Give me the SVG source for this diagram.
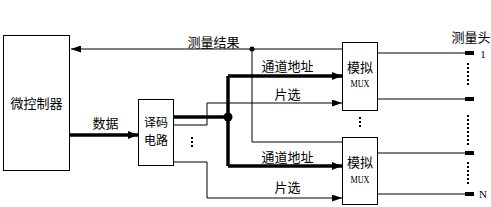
<svg xmlns="http://www.w3.org/2000/svg" width="491" height="207" viewBox="0 0 491 207">
<defs>
<style>
.box{fill:#fff;stroke:#000;stroke-width:1}
.thin{fill:none;stroke:#000;stroke-width:1}
.thick{fill:none;stroke:#000;stroke-width:3.5}
.t{font-family:"Noto Sans CJK SC","Noto Sans",sans-serif;font-size:13px;fill:#000;text-anchor:middle}
.m{font-family:"Liberation Serif",serif;font-size:11px;fill:#000;text-anchor:middle}
.dots{fill:none;stroke:#000;stroke-width:2;stroke-dasharray:2 2}
.term{fill:#000}
</style>
<marker id="arr" viewBox="0 0 10 8" markerWidth="10" markerHeight="8" refX="10" refY="4" orient="auto" markerUnits="userSpaceOnUse">
<path d="M0,0 L10,4 L0,8 z" fill="#000"/>
</marker>
<marker id="arrs" viewBox="0 0 10 7" markerWidth="10" markerHeight="7" refX="10" refY="3.5" orient="auto" markerUnits="userSpaceOnUse">
<path d="M0,0 L10,3.5 L0,7 z" fill="#000"/>
</marker>
</defs>
<rect width="491" height="207" fill="#fff"/>
<g id="connectors">
<path class="thin" d="M342,49 L71,49" marker-end="url(#arrs)"/>
<path class="thin" d="M252,49 L252,142 L342,142"/>
<circle cx="252" cy="49" r="2.5" fill="#000"/>
<path class="thick" d="M70,135 L138,135" marker-end="url(#arr)"/>
<path class="thick" d="M174,117 L228,117"/>
<path class="thick" d="M228,76 L228,166"/>
<path class="thick" d="M228,76 L342,76" marker-end="url(#arr)"/>
<path class="thick" d="M228,166 L342,166" marker-end="url(#arr)"/>
<circle cx="228" cy="117" r="4.5" fill="#000"/>
<path class="thin" d="M174,125 L207,125 L207,103 L342,103" marker-end="url(#arrs)"/>
<path class="thin" d="M174,162 L207,162 L207,198 L342,198" marker-end="url(#arrs)"/>
<path class="thin" d="M378,53 L466,53 M378,99 L466,99 M378,153 L466,153 M378,194 L466,194"/>
<rect class="term" x="465" y="51" width="9" height="4"/>
<rect class="term" x="465" y="97" width="9" height="4"/>
<rect class="term" x="465" y="151" width="9" height="4"/>
<rect class="term" x="465" y="192" width="9" height="4"/>
<path class="dots" d="M468,63 L468,87 M468,115 L468,146 M468,162 L468,184"/>
<path class="dots" d="M192,137 L192,149" stroke-width="1.6" stroke-dasharray="1.6 3"/>
<path class="dots" d="M360,117 L360,129" stroke-width="1.6" stroke-dasharray="1.6 3"/>
<text class="t" x="213.5" y="47">测量结果</text>
<text class="t" x="105.5" y="128">数据</text>
<text class="t" x="287.5" y="71">通道地址</text>
<text class="t" x="287.5" y="99">片选</text>
<text class="t" x="287.5" y="162">通道地址</text>
<text class="t" x="287.5" y="192">片选</text>
<text class="t" x="471" y="42">测量头</text>
<text class="m" x="483" y="58" font-size="13">1</text>
<text class="m" x="483" y="198" font-size="13">N</text>
</g>
<g id="mcu">
<rect class="box" x="3.5" y="35.5" width="66" height="135"/>
<text class="t" x="36.5" y="108">微控制器</text>
</g>
<g id="decoder">
<rect class="box" x="138.5" y="99.5" width="35" height="66"/>
<text class="t" x="156" y="127" style="font-size:12px">译码</text>
<text class="t" x="156" y="145" style="font-size:12px">电路</text>
</g>
<g id="mux1">
<rect class="box" x="342.5" y="42.5" width="35" height="68"/>
<text class="t" x="360" y="72">模拟</text>
<text class="m" x="360" y="86.5" textLength="19" lengthAdjust="spacingAndGlyphs">MUX</text>
</g>
<g id="mux2">
<rect class="box" x="342.5" y="137.5" width="35" height="67"/>
<text class="t" x="360" y="167">模拟</text>
<text class="m" x="360" y="182.5" textLength="19" lengthAdjust="spacingAndGlyphs">MUX</text>
</g>
</svg>
